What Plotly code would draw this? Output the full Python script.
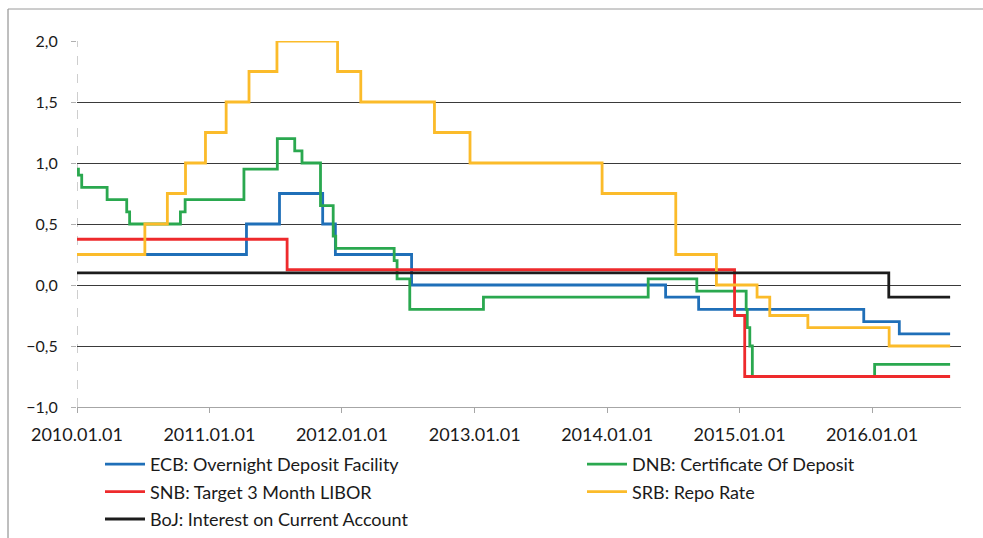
import plotly.graph_objects as go

END = "2016-08-03"

ecb_dates = ["2010-01-01", "2011-04-13", "2011-07-13", "2011-11-09", "2011-12-14",
             "2012-07-11", "2014-06-11", "2014-09-10", "2015-12-09", "2016-03-16", END]
ecb_vals = [0.25, 0.5, 0.75, 0.5, 0.25, 0.0, -0.1, -0.2, -0.3, -0.4, -0.4]

dnb_dates = ["2010-01-01", "2010-01-05", "2010-01-14", "2010-03-25", "2010-05-18",
             "2010-05-26", "2010-10-13", "2010-10-26", "2011-04-06", "2011-07-07",
             "2011-08-24", "2011-09-13", "2011-11-03", "2011-12-08", "2011-12-15",
             "2012-05-24", "2012-06-01", "2012-07-06", "2013-01-25", "2014-04-24",
             "2014-09-05", "2015-01-19", "2015-01-22", "2015-01-29", "2015-02-05",
             "2016-01-08", END]
dnb_vals = [0.95, 0.9, 0.8, 0.7, 0.6, 0.5, 0.6, 0.7, 0.95, 1.2,
            1.1, 1.0, 0.65, 0.4, 0.3, 0.2, 0.05, -0.2, -0.1, 0.05,
            -0.05, -0.2, -0.35, -0.5, -0.75, -0.65, -0.65]

snb_dates = ["2010-01-01", "2011-08-03", "2014-12-18", "2015-01-15", END]
snb_vals = [0.375, 0.125, -0.25, -0.75, -0.75]

srb_dates = ["2010-01-01", "2010-07-07", "2010-09-07", "2010-10-27", "2010-12-21",
             "2011-02-16", "2011-04-20", "2011-07-06", "2011-12-20", "2012-02-22",
             "2012-09-12", "2012-12-19", "2013-12-18", "2014-07-09", "2014-10-29",
             "2015-02-18", "2015-03-25", "2015-07-08", "2016-02-17", END]
srb_vals = [0.25, 0.5, 0.75, 1.0, 1.25, 1.5, 1.75, 2.0, 1.75, 1.5,
            1.25, 1.0, 0.75, 0.25, 0.0, -0.1, -0.25, -0.35, -0.5, -0.5]

boj_dates = ["2010-01-01", "2016-02-16", END]
boj_vals = [0.1, -0.1, -0.1]

series = [
    ("ECB: Overnight Deposit Facility", ecb_dates, ecb_vals, "#1f6fb8", "legend"),
    ("DNB: Certificate Of Deposit", dnb_dates, dnb_vals, "#2aa84f", "legend2"),
    ("SNB: Target 3 Month LIBOR", snb_dates, snb_vals, "#ee2a2c", "legend"),
    ("SRB: Repo Rate", srb_dates, srb_vals, "#fbbb2a", "legend2"),
    ("BoJ: Interest on Current Account", boj_dates, boj_vals, "#1c1c1c", "legend"),
]

y_ticks = [-1.0, -0.5, 0.0, 0.5, 1.0, 1.5, 2.0]
x_ticks = ["2010-01-01", "2011-01-01", "2012-01-01", "2013-01-01",
           "2014-01-01", "2015-01-01", "2016-01-01"]

FONT = "Lato"
LEG_SIZE = 18

fig = go.Figure()
for name, d, v, c, lg in series:
    fig.add_trace(go.Scatter(
        x=d, y=v, name=name, mode="lines", line=dict(color=c, width=2.8, shape="hv"),
        legend=lg, legendgroup=name,
    ))

LEG_TOP = 1 - 446 / 538
fig.update_layout(
    width=983, height=538, autosize=False,
    margin=dict(l=77, r=22, t=41, b=131, autoexpand=False),
    paper_bgcolor="white", plot_bgcolor="white",
    separators=", ",
    font=dict(family=FONT, color="#1a1a1a", size=16),
    showlegend=True,
    legend=dict(xref="container", yref="container", x=100 / 983, y=LEG_TOP,
                xanchor="left", yanchor="top", orientation="v",
                font=dict(family=FONT, size=LEG_SIZE, color="#1a1a1a"),
                bgcolor="rgba(0,0,0,0)", tracegroupgap=1, itemwidth=40),
    legend2=dict(xref="container", yref="container", x=582 / 983, y=LEG_TOP,
                 xanchor="left", yanchor="top", orientation="v",
                 font=dict(family=FONT, size=LEG_SIZE, color="#1a1a1a"),
                 bgcolor="rgba(0,0,0,0)", tracegroupgap=1, itemwidth=40),
    xaxis=dict(
        type="date", range=["2010-01-01", "2016-09-02"],
        tickvals=x_ticks, tickformat="%Y.%m.%d", tickangle=0,
        showgrid=False, zeroline=False,
        showline=True, linecolor="#a6a6a6", linewidth=1.3,
        ticks="outside", ticklen=5, tickcolor="#a6a6a6", tickwidth=1,
        tickfont=dict(family=FONT, size=18, color="#1a1a1a"),
        ticklabelstandoff=6,
    ),
    yaxis=dict(
        range=[-1.0, 2.0], tickvals=y_ticks, tickformat=".1f",
        showgrid=True, gridcolor="#3a3a3a", gridwidth=1,
        zeroline=False, showline=False,
        ticks="outside", ticklen=5, tickcolor="#b0b0b0", tickwidth=1,
        tickfont=dict(family=FONT, size=16, color="#1a1a1a"),
        ticklabelstandoff=10,
    ),
)

# dashed vertical value axis line and chart-area frame
fig.add_shape(type="line", xref="x", yref="paper", x0="2010-01-01", x1="2010-01-01",
              y0=0, y1=1, line=dict(color="#b4b4b4", width=1.3, dash="dash"), layer="below")
pw, ph = 983 - 77 - 22, 538 - 41 - 131
fx = (8 - 77) / pw
fy_top = (407 - 9) / ph
fy_bot = (407 - 540) / ph
fx_right = (990 - 77) / pw
fig.add_shape(type="line", xref="paper", yref="paper", x0=fx, x1=fx, y0=fy_bot, y1=fy_top,
              line=dict(color="#7f7f7f", width=1))
fig.add_shape(type="line", xref="paper", yref="paper", x0=fx, x1=fx_right, y0=fy_top, y1=fy_top,
              line=dict(color="#9a9a9a", width=1))

fig.write_html("out.html", config={"displayModeBar": False},
               post_script="document.body.style.margin='0';document.body.style.overflow='hidden';")
